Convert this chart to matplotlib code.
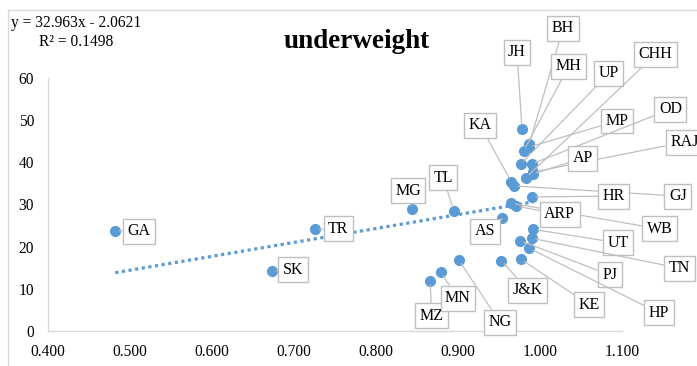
import matplotlib
matplotlib.use("Agg")
import matplotlib.pyplot as plt
from matplotlib.patches import Rectangle

plt.rcParams['font.family'] = ['Liberation Serif', 'DejaVu Serif']

# state codes, x index value, underweight (%)
states = ["GA", "SK", "TR", "MG", "MZ", "MN", "TL", "NG",
          "JH", "BH", "MP", "MH", "KA", "GJ", "OD", "RAJ", "UP", "CHH", "AP",
          "HR", "WB", "ARP", "UT", "TN", "PJ", "HP", "AS", "J&K", "KE"]
xvals = [0.482, 0.673, 0.726, 0.844, 0.866, 0.879, 0.895, 0.901,
         0.978, 0.987, 0.986, 0.980, 0.965, 0.968, 0.990, 0.992, 0.977, 0.983, 0.991,
         0.990, 0.965, 0.971, 0.992, 0.990, 0.976, 0.987, 0.954, 0.953, 0.977]
underweight = [23.8, 14.2, 24.1, 28.9, 11.9, 13.9, 28.5, 16.8,
               47.9, 44.3, 43.6, 42.7, 35.4, 34.4, 39.6, 37.7, 39.7, 36.4, 37.2,
               31.8, 30.3, 29.6, 24.1, 22.0, 21.4, 19.6, 26.7, 16.7, 17.0]

# where each data label box sits
label_x = [0.511, 0.699, 0.754, 0.839, 0.868, 0.900, 0.882, 0.951,
           0.972, 1.028, 1.094, 1.035, 0.927, 1.168, 1.159, 1.176, 1.084, 1.141, 1.052,
           1.090, 1.146, 1.024, 1.095, 1.170, 1.085, 1.145, 0.933, 0.985, 1.060]
label_y = [23.7, 14.5, 24.2, 33.3, 3.6, 7.8, 36.3, 2.1,
           66.1, 71.8, 49.8, 62.8, 48.8, 32.0, 52.6, 44.8, 61.1, 65.6, 41.0,
           32.0, 24.2, 27.7, 20.9, 14.9, 13.3, 4.3, 23.7, 9.7, 6.2]

slope, intercept = 32.963, -2.0621
r2 = 0.1498

xticks = [0.4, 0.5, 0.6, 0.7, 0.8, 0.9, 1.0, 1.1]
yticks = [0, 10, 20, 30, 40, 50, 60]

blue = "#5B9BD5"
grey = "#BFBFBF"

fig = plt.figure(figsize=(6.97, 3.66), dpi=100)
fig.patches.append(Rectangle((8 / 697, -0.1), 1.2, (366 - 10) / 366 + 0.1,
                             transform=fig.transFigure, fill=False,
                             edgecolor="#D9D9D9", lw=1))
ax = fig.add_axes([48 / 697, 35 / 366, 574 / 697, 253 / 366])

ax.plot(xvals, underweight, "o", color=blue, ms=7, zorder=3)

# linear trendline over the data range
tx = [min(xvals), max(xvals)]
ty = [slope * v + intercept for v in tx]
ax.plot(tx, ty, color=blue, lw=2.3, linestyle=(0, (1, 1.1)), zorder=2)

for name, x, y, lx, ly in zip(states, xvals, underweight, label_x, label_y):
    ax.annotate(name, xy=(x, y), xytext=(lx, ly), ha="center", va="center",
                fontsize=11.5, color="#000000", annotation_clip=False, zorder=4,
                bbox=dict(boxstyle="square,pad=0.28", fc="white", ec=grey, lw=1),
                arrowprops=dict(arrowstyle="-", color=grey, lw=0.9,
                                shrinkA=0, shrinkB=3))

ax.set_xlim(0.4, 1.1)
ax.set_ylim(0, 60)
ax.set_xticks(xticks)
ax.set_xticklabels([f"{v:.3f}" for v in xticks])
ax.set_yticks(yticks)
ax.tick_params(length=0, labelsize=11.2, colors="#000000")
ax.tick_params(axis="y", pad=10)
ax.tick_params(axis="x", pad=9)
for side in ("top", "right"):
    ax.spines[side].set_visible(False)
for side in ("left", "bottom"):
    ax.spines[side].set_color("#D9D9D9")
    ax.spines[side].set_linewidth(1)

fig.text(357 / 697, 1 - 42 / 366, "underweight", ha="center", va="center",
         fontsize=19.5, fontweight="bold")
fig.text(76.5 / 697, 1 - 23 / 366, f"y = {slope}x - {abs(intercept)}",
         ha="center", va="center", fontsize=11.2)
fig.text(76.5 / 697, 1 - 42 / 366, f"R² = {r2}", ha="center", va="center",
         fontsize=11.2)

fig.savefig("out.png", dpi=100)
